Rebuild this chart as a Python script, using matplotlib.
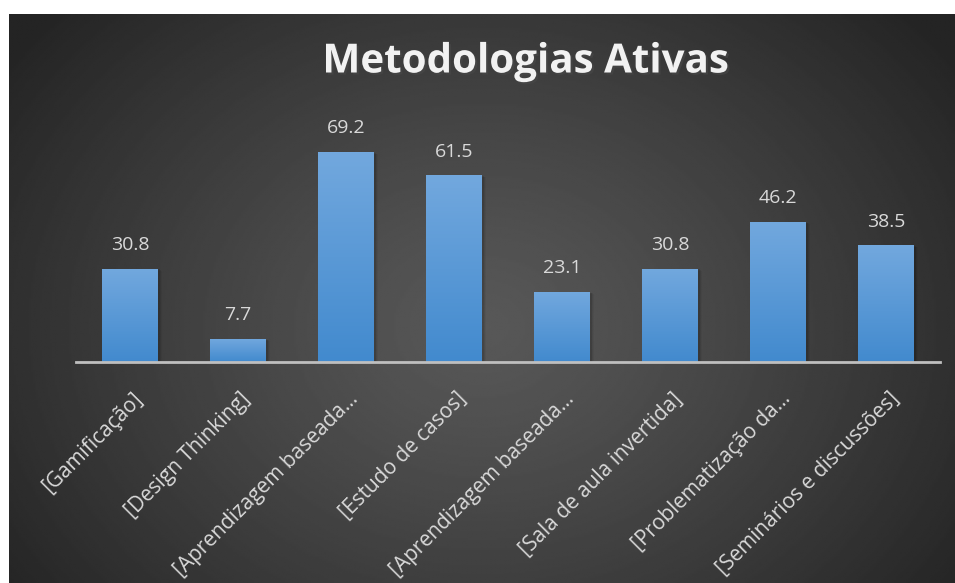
import matplotlib
matplotlib.use('Agg')
import matplotlib.pyplot as plt
import matplotlib.patheffects as pe
import numpy as np

plt.rcParams['font.family'] = ['Open Sans', 'DejaVu Sans']

# chart data
categories = ['[Gamificação]', '[Design Thinking]', '[Aprendizagem baseada…',
              '[Estudo de casos]', '[Aprendizagem baseada…', '[Sala de aula invertida]',
              '[Problematização da…', '[Seminários e discussões]']
values = [30.8, 7.7, 69.2, 61.5, 23.1, 30.8, 46.2, 38.5]
title = 'Metodologias Ativas'

W, H = 955, 583
fig = plt.figure(figsize=(W / 100, H / 100), dpi=100, facecolor='white')

# dark radial background panel
bg = fig.add_axes([9 / W, 0, (W - 9) / W, (H - 14) / H])
bg.axis('off')
yy, xx = np.mgrid[0:1:300j, 0:1:500j]
cx, cy = 0.5, 0.45
r = np.sqrt(((xx - cx) * 1.0) ** 2 + ((yy - cy) * 0.75) ** 2)
r = np.clip(r / 0.62, 0, 1)
light, dark = 0x58 / 255, 0x24 / 255
img = light + (dark - light) * r ** 1.2
bg.imshow(img, cmap='gray', vmin=0, vmax=1, extent=[0, 1, 0, 1],
          aspect='auto', origin='lower', interpolation='bilinear')
bg.set_xlim(0, 1)
bg.set_ylim(0, 1)

# plot axes
x0, x1 = 76, 940
y_base = 362
ymax = 80
px_per_unit = 210 / 69.2
top = y_base - ymax * px_per_unit
ax = fig.add_axes([x0 / W, (H - y_base) / H, (x1 - x0) / W, (y_base - top) / H])
ax.patch.set_alpha(0)

xs = np.arange(len(values))
bars = ax.bar(xs, values, width=0.51, color='none', edgecolor='none', zorder=3)

grad = np.linspace(0, 1, 100).reshape(-1, 1)
c_top = np.array([114, 168, 222]) / 255
c_bot = np.array([66, 138, 206]) / 255
for b in bars:
    bx, bw, bh = b.get_x(), b.get_width(), b.get_height()
    # soft shadow
    for k, a in enumerate([0.10, 0.07, 0.04]):
        ax.add_patch(plt.Rectangle((bx + 0.02 + k * 0.012, 0), bw, bh - 0.3 - k * 0.2,
                                   color='black', alpha=a, lw=0, zorder=2))
    cols = c_bot + (c_top - c_bot) * grad
    im = ax.imshow(cols.reshape(100, 1, 3), extent=[bx, bx + bw, 0, bh],
                   origin='lower', aspect='auto', zorder=3, interpolation='bilinear')
    im.set_clip_path(b)
    ax.text(b.get_x() + bw / 2, bh + 4.8, f'{bh:.1f}', ha='center', va='bottom',
            fontsize=14, color='#d9d9d9', zorder=4)

ax.set_xlim(-0.5, len(values) - 0.5)
ax.set_ylim(0, ymax)

for s in ['top', 'right', 'left']:
    ax.spines[s].set_visible(False)
ax.spines['bottom'].set_color('#bfbfbf')
ax.spines['bottom'].set_linewidth(2)
ax.spines['bottom'].set_zorder(5)
ax.set_yticks([])
ax.set_xticks(xs)
ax.set_xticklabels(categories, rotation=45, ha='right', rotation_mode='anchor',
                   fontsize=15, color='#d9d9d9')
ax.tick_params(axis='x', length=0, pad=19)
for lbl in ax.get_xticklabels():
    lbl.set_transform(lbl.get_transform() + matplotlib.transforms.ScaledTranslation(0.02, 0, fig.dpi_scale_trans))

fig.text(525 / W, 1 - 62 / H, title, ha='center', va='center', fontsize=29,
         fontweight='bold', color='#f2f2f2',
         path_effects=[pe.SimplePatchShadow(offset=(1.5, -1.5), alpha=0.6), pe.Normal()])

fig.savefig('out.png', dpi=100, facecolor='white')
